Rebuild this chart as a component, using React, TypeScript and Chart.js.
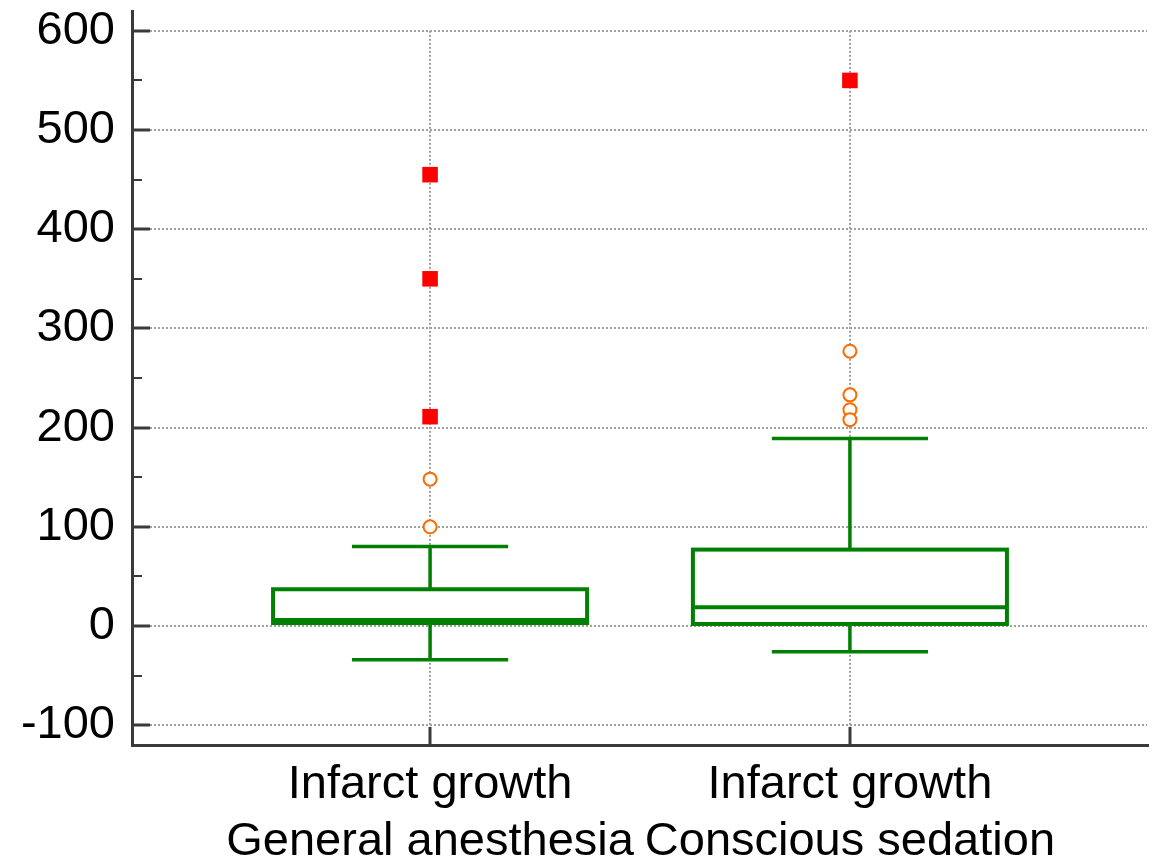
import React, { useEffect, useRef } from "react";
import { Chart, registerables } from "chart.js";

Chart.register(...registerables);

// ---- data ----
const categories = [1, 2];
const categoryLabels = [
  ["Infarct growth", "General anesthesia"],
  ["Infarct growth", "Conscious sedation"],
];
const whiskerLow = [-34, -26];
const q1 = [3, 2];
const median = [6, 19];
const q3 = [37, 77];
const whiskerHigh = [80, 189];
// outside values (orange circles)
const nearOutX = [1, 1, 2, 2, 2, 2];
const nearOutY = [148, 100, 277, 233, 218, 208];
// far out values (red squares)
const farOutX = [1, 1, 1, 2];
const farOutY = [455, 350, 211, 550];
const yTickValues = [-100, 0, 100, 200, 300, 400, 500, 600];
const yMinorValues = [-50, 50, 150, 250, 350, 450, 550];

const GREEN = "#008000";
const AXIS = "#3a3a3a";
const FONT = "'Liberation Sans', Arial, sans-serif";

const boxPlugin = {
  id: "boxPlugin",
  beforeDatasetsDraw(chart: any) {
    const { ctx, chartArea, scales } = chart;
    const xs = scales.x;
    const ys = scales.y;
    const left = chartArea.left;
    const right = chartArea.right;
    const bottom = chartArea.bottom;
    ctx.save();
    // grid lines
    ctx.strokeStyle = "#a0a0a0";
    ctx.lineWidth = 2;
    ctx.setLineDash([2, 2]);
    yTickValues.forEach((v) => {
      const y = Math.round(ys.getPixelForValue(v));
      ctx.beginPath();
      ctx.moveTo(left + 18, y);
      ctx.lineTo(right - 1, y);
      ctx.stroke();
    });
    const gridTop = ys.getPixelForValue(yTickValues[yTickValues.length - 1]);
    categories.forEach((c) => {
      const x = Math.round(xs.getPixelForValue(c));
      ctx.beginPath();
      ctx.moveTo(x, gridTop);
      ctx.lineTo(x, bottom - 18);
      ctx.stroke();
    });
    ctx.setLineDash([]);
    // tick marks (inward)
    ctx.strokeStyle = AXIS;
    ctx.lineWidth = 3;
    yTickValues.forEach((v) => {
      const y = Math.round(ys.getPixelForValue(v));
      ctx.beginPath();
      ctx.moveTo(left, y);
      ctx.lineTo(left + 18, y);
      ctx.stroke();
    });
    categories.forEach((c) => {
      const x = Math.round(xs.getPixelForValue(c));
      ctx.beginPath();
      ctx.moveTo(x, bottom);
      ctx.lineTo(x, bottom - 18);
      ctx.stroke();
    });
    ctx.lineWidth = 2;
    yMinorValues.forEach((v) => {
      const y = Math.round(ys.getPixelForValue(v));
      ctx.beginPath();
      ctx.moveTo(left, y);
      ctx.lineTo(left + 10, y);
      ctx.stroke();
    });
    // boxes
    const boxHalf = 0.374;
    const capHalf = 0.186;
    categories.forEach((c, i) => {
      const xl = xs.getPixelForValue(c - boxHalf);
      const xr = xs.getPixelForValue(c + boxHalf);
      const xc = xs.getPixelForValue(c);
      const cl = xs.getPixelForValue(c - capHalf);
      const cr = xs.getPixelForValue(c + capHalf);
      const yq1 = ys.getPixelForValue(q1[i]);
      const yq3 = ys.getPixelForValue(q3[i]);
      const ym = ys.getPixelForValue(median[i]);
      const ylo = ys.getPixelForValue(whiskerLow[i]);
      const yhi = ys.getPixelForValue(whiskerHigh[i]);
      ctx.strokeStyle = GREEN;
      ctx.lineWidth = 3.5;
      // whiskers
      ctx.beginPath();
      ctx.moveTo(xc, yq3);
      ctx.lineTo(xc, yhi);
      ctx.moveTo(cl, yhi);
      ctx.lineTo(cr, yhi);
      ctx.moveTo(xc, yq1);
      ctx.lineTo(xc, ylo);
      ctx.moveTo(cl, ylo);
      ctx.lineTo(cr, ylo);
      ctx.stroke();
      // box
      ctx.fillStyle = "#ffffff";
      ctx.fillRect(xl, yq3, xr - xl, yq1 - yq3);
      ctx.lineWidth = 4;
      ctx.strokeRect(xl, yq3, xr - xl, yq1 - yq3);
      ctx.beginPath();
      ctx.moveTo(xl, ym);
      ctx.lineTo(xr, ym);
      ctx.stroke();
    });
    ctx.restore();
  },
};

export default function App() {
  const ref = useRef<HTMLCanvasElement | null>(null);
  useEffect(() => {
    if (!ref.current) return;
    const chart = new Chart(ref.current, {
      type: "scatter",
      data: {
        datasets: [
          {
            label: "outside",
            data: nearOutX.map((x, i) => ({ x, y: nearOutY[i] })),
            pointStyle: "circle",
            pointRadius: 6.5,
            pointBorderWidth: 2,
            pointBackgroundColor: "#ffffff",
            pointBorderColor: "#ff6a00",
          },
          {
            label: "far out",
            data: farOutX.map((x, i) => ({ x, y: farOutY[i] })),
            pointStyle: "rect",
            pointRadius: 11,
            pointBorderWidth: 0,
            pointBackgroundColor: "#ff0000",
            pointBorderColor: "#ff0000",
          },
        ],
      },
      options: {
        animation: false,
        responsive: false,
        maintainAspectRatio: false,
        layout: { padding: { top: 10, right: 12, left: 0, bottom: 0 } },
        plugins: {
          legend: { display: false },
          tooltip: { enabled: false },
        },
        scales: {
          x: {
            type: "linear",
            min: 0.29,
            max: 2.71,
            grid: { display: false, drawTicks: false },
            border: { display: true, color: AXIS, width: 3 },
            afterBuildTicks: (s: any) => {
              s.ticks = categories.map((v) => ({ value: v }));
            },
            afterFit: (s: any) => {
              s.height = 118;
              s.paddingLeft = 0;
              s.paddingRight = 0;
            },
            ticks: {
              autoSkip: false,
              maxRotation: 0,
              minRotation: 0,
              padding: 12,
              color: "#000",
              font: { family: FONT, size: 47 },
              callback: (_v: any, i: number) => categoryLabels[i],
            },
          },
          y: {
            type: "linear",
            min: -120,
            max: 620,
            grid: { display: false, drawTicks: false },
            border: { display: true, color: AXIS, width: 3 },
            afterBuildTicks: (s: any) => {
              s.ticks = yTickValues.map((v) => ({ value: v }));
            },
            afterFit: (s: any) => {
              s.width = 132;
              s.paddingTop = 0;
              s.paddingBottom = 0;
            },
            ticks: {
              padding: 17,
              color: "#000",
              font: { family: FONT, size: 47 },
              callback: (v: any) => String(v),
            },
          },
        },
      },
      plugins: [boxPlugin],
    } as any);
    return () => chart.destroy();
  }, []);
  return (
    <div style={{ position: "fixed", left: 0, top: 0, width: 1160, height: 863, background: "#fff" }}>
      <canvas ref={ref} width={1160} height={863} style={{ display: "block" }} />
    </div>
  );
}
